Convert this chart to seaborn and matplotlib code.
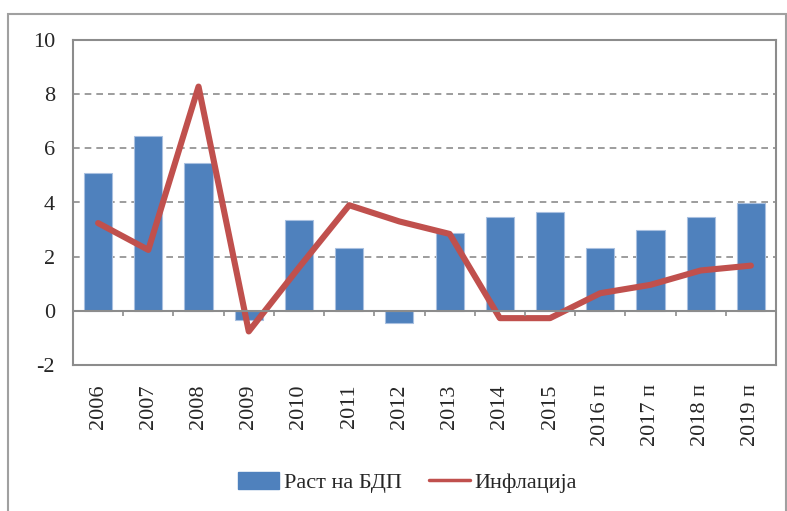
import numpy as np
import pandas as pd
import matplotlib
matplotlib.use("Agg")
import matplotlib.pyplot as plt
import seaborn as sns
from matplotlib.patches import Rectangle, Patch
from matplotlib.lines import Line2D

# data
years = ["2006", "2007", "2008", "2009", "2010", "2011", "2012", "2013",
         "2014", "2015", "2016 п", "2017 п", "2018 п", "2019 п"]
gdp_growth = [5.1, 6.45, 5.47, -0.33, 3.36, 2.32, -0.45, 2.88,
              3.48, 3.66, 2.32, 2.99, 3.48, 3.97]
inflation = [3.24, 2.25, 8.28, -0.76, 1.6, 3.9, 3.3, 2.84,
             -0.27, -0.27, 0.65, 0.96, 1.49, 1.67]

df = pd.DataFrame({"year": years, "gdp": gdp_growth, "infl": inflation})

sns.set_style("white")
plt.rcParams["font.family"] = ["Liberation Serif", "DejaVu Serif"]

bar_col = "#4F81BD"
line_col = "#C0504D"
grey = "#8c8c8c"

fig = plt.figure(figsize=(7.87, 5.11), dpi=100)
ax = fig.add_axes([73 / 787, 1 - 365 / 511, (776 - 73) / 787, (365 - 40) / 511])

sns.barplot(data=df, x="year", y="gdp", color=bar_col, width=0.56,
            edgecolor="#a9c0e0", linewidth=0.8, saturation=1, ax=ax, zorder=3)
sns.lineplot(x=np.arange(len(years)), y=df["infl"], color=line_col, lw=4.4,
             ax=ax, zorder=4, solid_capstyle="round", solid_joinstyle="round")

ax.set_ylim(-2, 10)
ax.set_xlim(-0.5, len(years) - 0.5)
ax.set_yticks([-2, 0, 2, 4, 6, 8, 10])
ax.set_yticklabels(["-2", "0", "2", "4", "6", "8", "10"], fontsize=16)
ax.set_xticks(range(len(years)))
ax.set_xticklabels(years, rotation=90, fontsize=16)
ax.tick_params(axis="x", length=0, pad=14)
ax.tick_params(axis="y", length=7, width=1.2, color=grey, direction="out", pad=6)
ax.set_xlabel("")
ax.set_ylabel("")

for y in [2, 4, 6, 8]:
    ax.axhline(y, color=grey, lw=1.2, ls=(0, (4, 3)), zorder=1)
ax.axhline(0, color=grey, lw=1.5, zorder=5)
ax.vlines(np.arange(0.5, len(years), 1), -0.2, 0, color=grey, lw=1.2, zorder=5)

for s in ax.spines.values():
    s.set_color(grey)
    s.set_linewidth(1.5)

handles = [Patch(facecolor=bar_col, edgecolor=bar_col),
           Line2D([0], [0], color=line_col, lw=2.5)]
fig.legend(handles, ["Раст на БДП", "Инфлација"], loc="center",
           bbox_to_anchor=(0.518, 0.055), ncol=2, frameon=False, fontsize=16,
           handlelength=1.85, handleheight=0.75, handletextpad=0.2,
           columnspacing=1.25)

fig.patches.append(Rectangle((8 / 787, -0.02), (786 - 8) / 787, (511 - 14) / 511 + 0.02,
                             transform=fig.transFigure, fill=False,
                             edgecolor="#a0a0a0", lw=1.5))

fig.savefig("out.png", dpi=100)
